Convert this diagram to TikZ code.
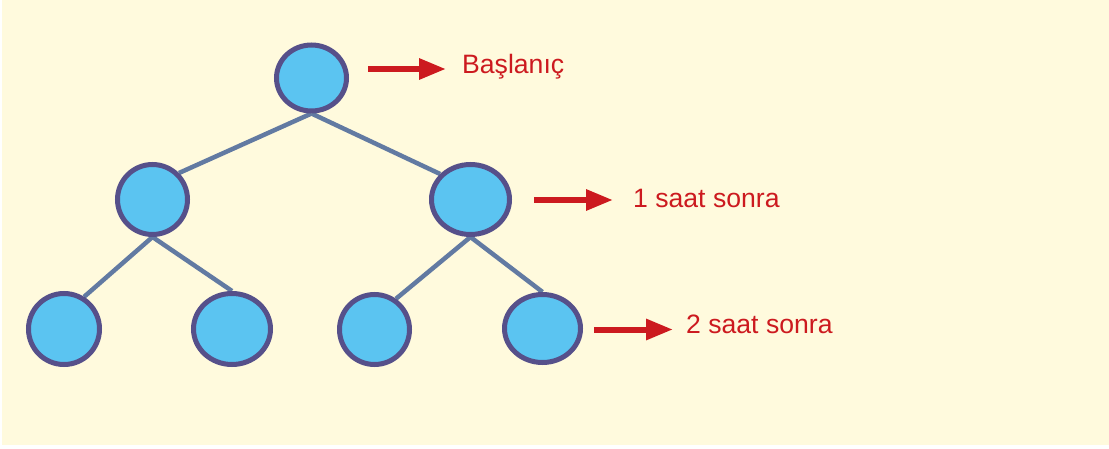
\documentclass[tikz,border=0pt]{standalone}
\usepackage{fontspec}
\setmainfont{Liberation Sans}
\usetikzlibrary{shapes.geometric, arrows.meta}

\definecolor{bgyellow}{RGB}{255,250,221}
\definecolor{ballblue}{RGB}{91,196,241}
\definecolor{rimpurple}{RGB}{86,80,138}
\definecolor{edgeblue}{RGB}{98,122,162}
\definecolor{labelred}{RGB}{204,26,31}

\pgfdeclarelayer{back}
\pgfsetlayers{back,main}

\begin{document}
\begin{tikzpicture}[x=1pt, y=-1pt,
    ball/.style={ellipse, draw=rimpurple, fill=ballblue, line width=5pt,
      inner sep=0pt, minimum width=70pt, minimum height=70pt},
    link/.style={draw=edgeblue, line width=4.5pt},
    timearrow/.style={draw=labelred, line width=6pt,
      -{Triangle[length=27pt, width=20pt]}},
    timelabel/.style={anchor=base west, text=labelred, inner sep=0pt,
      font=\fontsize{26.6}{30}\selectfont}]

    \useasboundingbox (0,0) rectangle (1109,449);

    % the tree
    \node [ball, minimum height=66pt] (top) at (311.5,78) {};

    \node [ball] (ml) at (152.5,199.5) {};
    \node [ball, minimum width=78pt] (mr) at (470.5,199.5) {};

    \node [ball, minimum width=71pt, minimum height=71pt] (b1) at (64,329) {};
    \node [ball, minimum width=77pt, minimum height=71pt] (b2) at (232,329) {};
    \node [ball] (b3) at (374.5,329.5) {};
    \node [ball, minimum width=76pt, minimum height=68pt] (b4) at (542.5,328.5) {};

    \begin{pgfonlayer}{back}
      \fill [bgyellow] (2,0) rectangle (1109,445);

      \draw [link] (top.south) -- (ml.45);
      \draw [link] (top.south) -- (mr.140);

      \draw [link] (ml.south) -- (b1.58);
      \draw [link] (ml.south) -- (b2.north);

      \draw [link] (mr.south) -- (b3.55);
      \draw [link] (mr.south) -- (b4.north);
    \end{pgfonlayer}

    % time labels
    \coordinate (a0s) at (368,69);
    \coordinate (a0e) at (446,69);
    \coordinate (a1s) at (534,200);
    \coordinate (a1e) at (613,200);
    \coordinate (a2s) at (594,329.5);
    \coordinate (a2e) at (673,329.5);

    \draw [timearrow] (a0s) -- (a0e);
    \draw [timearrow] (a1s) -- (a1e);
    \draw [timearrow] (a2s) -- (a2e);

    \node [timelabel] (t0) at (462,74) {Başlanıç};
    \node [timelabel] (t1) at (633,208) {1 saat sonra};
    \node [timelabel] (t2) at (686,333) {2 saat sonra};

  \end{tikzpicture}
\end{document}
